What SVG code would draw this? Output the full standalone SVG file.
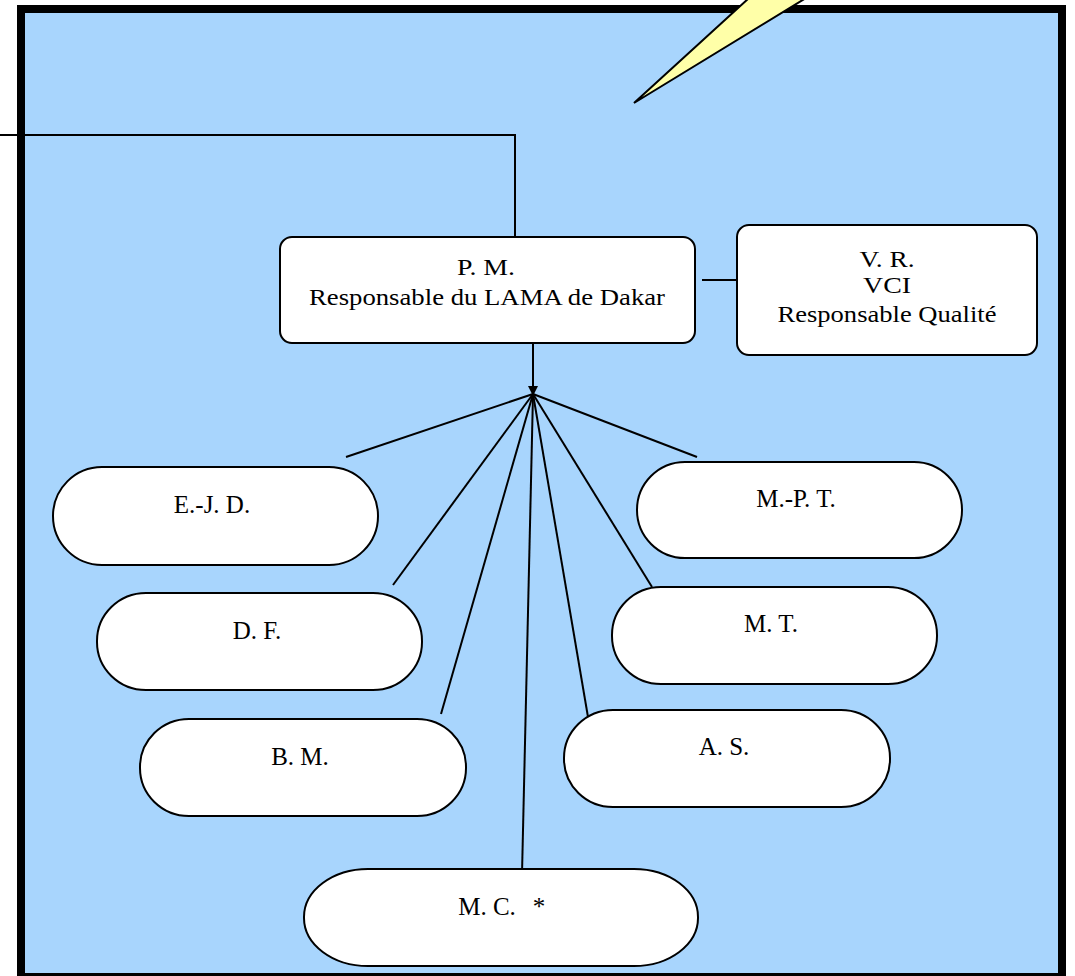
<svg xmlns="http://www.w3.org/2000/svg" width="1075" height="976" viewBox="0 0 1075 976">
<style>
.frame{fill:#A8D5FD;stroke:#000;stroke-width:8}
.box{fill:#fff;stroke:#000;stroke-width:2}
.pill{fill:#fff;stroke:#000;stroke-width:2}
.conn{stroke:#000;stroke-width:2;fill:none}
.bt{font-family:"Liberation Serif","Times New Roman",serif;font-size:22.5px;fill:#000;text-anchor:middle}
.pt{font-family:"Liberation Serif","Times New Roman",serif;font-size:25px;fill:#000;text-anchor:middle}
</style>
<defs>
<marker id="arr" viewBox="0 0 10 10" refX="10" refY="5" markerWidth="5" markerHeight="5" orient="auto" markerUnits="strokeWidth">
<path d="M0,0 L10,5 L0,10 z" fill="#000"/>
</marker>
</defs>
<rect class="frame" x="21" y="9" width="1041" height="968"/>
<polygon points="634,103 749,-2 806,-2" fill="#FFFFA8" stroke="#000" stroke-width="2" stroke-linejoin="miter"/>
<g id="connectors">
<polyline class="conn" points="0,135 515,135 515,237"/>
<line class="conn" x1="702" y1="280" x2="737" y2="280"/>
<line class="conn" x1="533" y1="343" x2="533" y2="396" marker-end="url(#arr)"/>
<line class="conn" x1="533" y1="394" x2="346" y2="457"/>
<line class="conn" x1="533" y1="394" x2="393" y2="585"/>
<line class="conn" x1="533" y1="394" x2="441" y2="714"/>
<line class="conn" x1="533" y1="394" x2="522" y2="874"/>
<line class="conn" x1="533" y1="394" x2="588" y2="717"/>
<line class="conn" x1="533" y1="394" x2="652" y2="587"/>
<line class="conn" x1="533" y1="394" x2="697" y2="457"/>
</g>
<g id="pm">
<rect class="box" x="280" y="237" width="415" height="106" rx="12"/>
<text class="bt" x="486" y="275" textLength="58" lengthAdjust="spacingAndGlyphs">P. M.</text>
<text class="bt" x="487" y="305" textLength="356" lengthAdjust="spacingAndGlyphs">Responsable du LAMA de Dakar</text>
</g>
<g id="vr">
<rect class="box" x="737" y="225" width="300" height="130" rx="12"/>
<text class="bt" x="887" y="267" textLength="55" lengthAdjust="spacingAndGlyphs">V. R.</text>
<text class="bt" x="887" y="293" textLength="48" lengthAdjust="spacingAndGlyphs">VCI</text>
<text class="bt" x="887" y="322" textLength="219" lengthAdjust="spacingAndGlyphs">Responsable Qualité</text>
</g>
<g id="ejd">
<rect class="pill" x="53" y="467" width="325" height="98" rx="49" ry="49"/>
<text class="pt" x="212" y="513">E.-J. D.</text>
</g>
<g id="df">
<rect class="pill" x="97" y="593" width="325" height="97" rx="49" ry="48"/>
<text class="pt" x="257" y="639">D. F.</text>
</g>
<g id="bm">
<rect class="pill" x="140" y="719" width="326" height="97" rx="49" ry="48"/>
<text class="pt" x="300" y="765">B. M.</text>
</g>
<g id="mc">
<rect class="pill" x="304" y="869" width="394" height="97" rx="64" ry="48"/>
<text class="pt" x="487" y="915">M. C.</text>
<text class="pt" x="539" y="915">*</text>
</g>
<g id="mpt">
<rect class="pill" x="637" y="462" width="325" height="96" rx="48" ry="48"/>
<text class="pt" x="796" y="507">M.-P. T.</text>
</g>
<g id="mt">
<rect class="pill" x="612" y="587" width="325" height="97" rx="49" ry="48"/>
<text class="pt" x="771" y="632">M. T.</text>
</g>
<g id="as">
<rect class="pill" x="564" y="710" width="326" height="97" rx="49" ry="48"/>
<text class="pt" x="724" y="755">A. S.</text>
</g>
</svg>
